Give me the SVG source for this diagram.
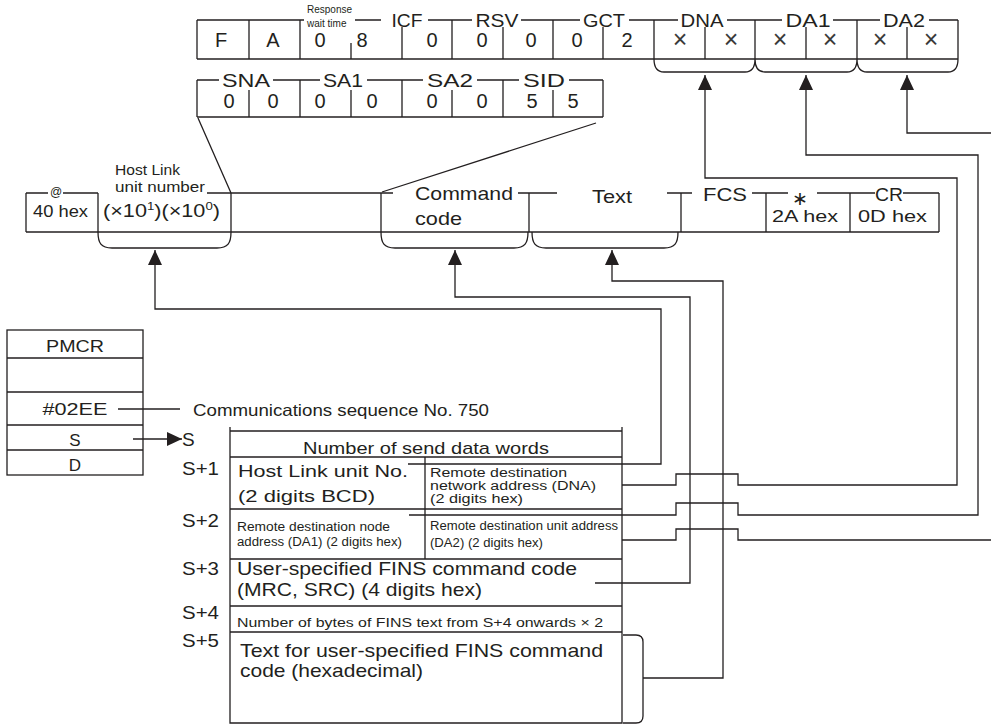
<svg xmlns="http://www.w3.org/2000/svg" width="991" height="724" viewBox="0 0 991 724">
<style>
.ln{fill:none;stroke:#231f20;stroke-width:1.3}
.cn{fill:none;stroke:#231f20;stroke-width:1.3}
text{font-family:"Liberation Sans",Arial,Helvetica,sans-serif;fill:#231f20}
.d{font-size:20px;text-anchor:middle}
.lb{font-size:19px;text-anchor:middle}
.x{font-size:25px;text-anchor:middle;fill:#3a3a3a}
.m{text-anchor:middle}
</style>
<defs>
<marker id="ah" viewBox="0 0 15 14" refX="15" refY="7" markerWidth="15" markerHeight="14" markerUnits="userSpaceOnUse" orient="auto">
<path d="M0,0 L15,7 L0,14 z" fill="#231f20"/>
</marker>
</defs>
<rect width="991" height="724" fill="#fff"/>

<g id="fins-header-row1">
<path class="ln" d="M197,20H304 M355,20H381 M428,20H472 M521,20H580 M629,20H678 M727,20H782 M833,20H880 M929,20H958"/>
<path class="ln" d="M197,59H958"/>
<path class="ln" d="M197,20V59 M249,20V59 M300,20V59 M351,43V59 M402,27V59 M452,20V59 M503,27V59 M553,20V59 M603,27V59 M654,20V59 M705,27V59 M755,20V59 M806,27V59 M857,20V59 M907,27V59 M958,20V59"/>
<text x="307" y="13" font-size="10">Response</text>
<text x="307" y="27" font-size="10">wait time</text>
<text class="lb" x="407" y="27" textLength="31" lengthAdjust="spacingAndGlyphs">ICF</text>
<text class="lb" x="497" y="27" textLength="43" lengthAdjust="spacingAndGlyphs">RSV</text>
<text class="lb" x="604" y="27" textLength="42" lengthAdjust="spacingAndGlyphs">GCT</text>
<text class="lb" x="702" y="27" textLength="43" lengthAdjust="spacingAndGlyphs">DNA</text>
<text class="lb" x="808" y="27" textLength="45" lengthAdjust="spacingAndGlyphs">DA1</text>
<text class="lb" x="904" y="27" textLength="42" lengthAdjust="spacingAndGlyphs">DA2</text>
<text class="d" x="221" y="47">F</text>
<text class="d" x="273" y="47">A</text>
<text class="d" x="320" y="47">0</text>
<text class="d" x="362" y="47">8</text>
<text class="d" x="432" y="47">0</text>
<text class="d" x="482" y="47">0</text>
<text class="d" x="531" y="47">0</text>
<text class="d" x="577" y="47">0</text>
<text class="d" x="627" y="47">2</text>
<text class="x" x="680" y="48">×</text>
<text class="x" x="731" y="48">×</text>
<text class="x" x="780" y="48">×</text>
<text class="x" x="830" y="48">×</text>
<text class="x" x="880" y="48">×</text>
<text class="x" x="931" y="48">×</text>
<path class="ln" d="M654,59 C654,68 657,72 664,72 H745 C752,72 755,68 755,59 M755,59 C755,68 758,72 765,72 H847 C854,72 857,68 857,59 M857,59 C857,68 860,72 867,72 H948 C955,72 958,68 958,59"/>
</g>

<g id="fins-header-row2">
<path class="ln" d="M197,80H219 M273,80H320 M367,80H423 M477,80H519 M569,80H603"/>
<path class="ln" d="M197,117H603"/>
<path class="ln" d="M197,80V117 M249,90V117 M300,80V117 M351,90V117 M402,80V117 M452,90V117 M503,80V117 M553,90V117 M603,80V117"/>
<text class="lb" x="246" y="87" textLength="48" lengthAdjust="spacingAndGlyphs">SNA</text>
<text class="lb" x="343" y="87" textLength="40" lengthAdjust="spacingAndGlyphs">SA1</text>
<text class="lb" x="450" y="87" textLength="46" lengthAdjust="spacingAndGlyphs">SA2</text>
<text class="lb" x="544" y="87" textLength="42" lengthAdjust="spacingAndGlyphs">SID</text>
<text class="d" x="229" y="108">0</text>
<text class="d" x="273" y="108">0</text>
<text class="d" x="320" y="108">0</text>
<text class="d" x="372" y="108">0</text>
<text class="d" x="432" y="108">0</text>
<text class="d" x="482" y="108">0</text>
<text class="d" x="532" y="108">5</text>
<text class="d" x="573" y="108">5</text>
<path class="ln" d="M198,118 L231,193 M596,123 L382,192"/>
</g>

<g id="hostlink-frame">
<path class="ln" d="M26,193H48 M63,193H98 M207,193H393 M518,193H557 M667,193H692 M752,193H788 M817,193H875 M903,193H939"/>
<path class="ln" d="M26,232H939"/>
<path class="ln" d="M26,193V232 M98,193V232 M231,193V232 M381,193V232 M529,193V232 M681,193V232 M766,193V232 M850,193V232 M939,193V232"/>
<text class="m" x="56" y="196" font-size="12">@</text>
<text x="115" y="175" font-size="15.5" textLength="65" lengthAdjust="spacingAndGlyphs">Host Link</text>
<text x="115" y="192" font-size="15.5" textLength="90" lengthAdjust="spacingAndGlyphs">unit number</text>
<text x="33" y="217" font-size="16.5" textLength="55" lengthAdjust="spacingAndGlyphs">40 hex</text>
<text x="103" y="217" font-size="18" textLength="117" lengthAdjust="spacingAndGlyphs">(×10<tspan dy="-7" font-size="11">1</tspan><tspan dy="7">)(×10</tspan><tspan dy="-7" font-size="11">0</tspan><tspan dy="7">)</tspan></text>
<text x="415" y="200" font-size="19" textLength="98" lengthAdjust="spacingAndGlyphs">Command</text>
<text x="415" y="225" font-size="19" textLength="47" lengthAdjust="spacingAndGlyphs">code</text>
<text x="592" y="203" font-size="19" textLength="40" lengthAdjust="spacingAndGlyphs">Text</text>
<text x="703" y="201" font-size="19" textLength="44" lengthAdjust="spacingAndGlyphs">FCS</text>
<text class="m" x="800" y="205" font-size="19">∗</text>
<text x="875" y="201" font-size="19" textLength="28" lengthAdjust="spacingAndGlyphs">CR</text>
<text x="772" y="222" font-size="16.5" textLength="66" lengthAdjust="spacingAndGlyphs">2A hex</text>
<text x="858" y="222" font-size="16.5" textLength="69" lengthAdjust="spacingAndGlyphs">0D hex</text>
<path class="ln" d="M98,232 C98,243 101,248 112,248 H217 C228,248 231,243 231,232 M381,232 C381,243 384,248 395,248 H514 C525,248 528,243 528,232 M532,232 C532,243 535,248 546,248 H664 C675,248 678,243 678,232"/>
</g>

<g id="pmcr">
<rect class="ln" x="7" y="330" width="136" height="145"/>
<path class="ln" d="M7,358H143 M7,392H143 M7,425H143 M7,450H143"/>
<text class="m" x="75" y="352" font-size="17" textLength="58" lengthAdjust="spacingAndGlyphs">PMCR</text>
<text class="m" x="75" y="415" font-size="16.5" textLength="65" lengthAdjust="spacingAndGlyphs">#02EE</text>
<text class="m" x="75" y="446" font-size="17">S</text>
<text class="m" x="75" y="471" font-size="17">D</text>
</g>

<g id="comm-seq">
<text x="193" y="416" font-size="16.5" textLength="296" lengthAdjust="spacingAndGlyphs">Communications sequence No. 750</text>
</g>

<g id="row-labels">
<text x="182" y="446" font-size="19">S</text>
<text x="182" y="475" font-size="18" textLength="37" lengthAdjust="spacingAndGlyphs">S+1</text>
<text x="182" y="527" font-size="18" textLength="37" lengthAdjust="spacingAndGlyphs">S+2</text>
<text x="182" y="575" font-size="18" textLength="37" lengthAdjust="spacingAndGlyphs">S+3</text>
<text x="182" y="619" font-size="18" textLength="37" lengthAdjust="spacingAndGlyphs">S+4</text>
<text x="182" y="647" font-size="18" textLength="37" lengthAdjust="spacingAndGlyphs">S+5</text>
</g>

<g id="send-table">
<path class="ln" d="M230,427V723H622V427 M230,431H622 M230,457H622 M230,509H622 M230,559H622 M230,606H622 M230,632H622 M425,457V559"/>
<text class="m" x="426" y="454" font-size="17" textLength="246" lengthAdjust="spacingAndGlyphs">Number of send data words</text>
<text x="238" y="477" font-size="17" textLength="170" lengthAdjust="spacingAndGlyphs">Host Link unit No.</text>
<text x="238" y="502" font-size="17" textLength="137" lengthAdjust="spacingAndGlyphs">(2 digits BCD)</text>
<text x="430" y="477" font-size="12" textLength="137" lengthAdjust="spacingAndGlyphs">Remote destination</text>
<text x="430" y="490" font-size="12" textLength="166" lengthAdjust="spacingAndGlyphs">network address (DNA)</text>
<text x="430" y="503" font-size="12" textLength="93" lengthAdjust="spacingAndGlyphs">(2 digits hex)</text>
<text x="237" y="531" font-size="12" textLength="153" lengthAdjust="spacingAndGlyphs">Remote destination node</text>
<text x="237" y="546" font-size="12" textLength="165" lengthAdjust="spacingAndGlyphs">address (DA1) (2 digits hex)</text>
<text x="430" y="530" font-size="12" textLength="188" lengthAdjust="spacingAndGlyphs">Remote destination unit address</text>
<text x="430" y="547" font-size="12" textLength="113" lengthAdjust="spacingAndGlyphs">(DA2) (2 digits hex)</text>
<text x="237" y="575" font-size="18.5" textLength="340" lengthAdjust="spacingAndGlyphs">User-specified FINS command code</text>
<text x="237" y="596" font-size="18.5" textLength="245" lengthAdjust="spacingAndGlyphs">(MRC, SRC) (4 digits hex)</text>
<text x="237" y="627" font-size="12" textLength="366" lengthAdjust="spacingAndGlyphs">Number of bytes of FINS text from S+4 onwards × 2</text>
<text x="240" y="657" font-size="18.5" textLength="363" lengthAdjust="spacingAndGlyphs">Text for user-specified FINS command</text>
<text x="240" y="677" font-size="18.5" textLength="183" lengthAdjust="spacingAndGlyphs">code (hexadecimal)</text>
<path class="ln" d="M623,635 H636 Q643,635 643,642 V716 Q643,723 636,723 H623"/>
</g>

<g id="connectors">
<path class="cn" d="M118,409H180"/>
<path class="cn" d="M133,439H182" marker-end="url(#ah)"/>
<path class="cn" d="M408,464H661V309H155V250" marker-end="url(#ah)"/>
<path class="cn" d="M595,583H690V297H455V250" marker-end="url(#ah)"/>
<path class="cn" d="M643,678H723V281H612V250" marker-end="url(#ah)"/>
<path class="cn" d="M622,485H676V474H738V485H957V178H705V75" marker-end="url(#ah)"/>
<path class="cn" d="M409,515H676V503H738V515H978V155H806V75" marker-end="url(#ah)"/>
<path class="cn" d="M622,540H676V529H738V540H991"/>
<path class="cn" d="M991,133H907V75" marker-end="url(#ah)"/>
</g>
</svg>
